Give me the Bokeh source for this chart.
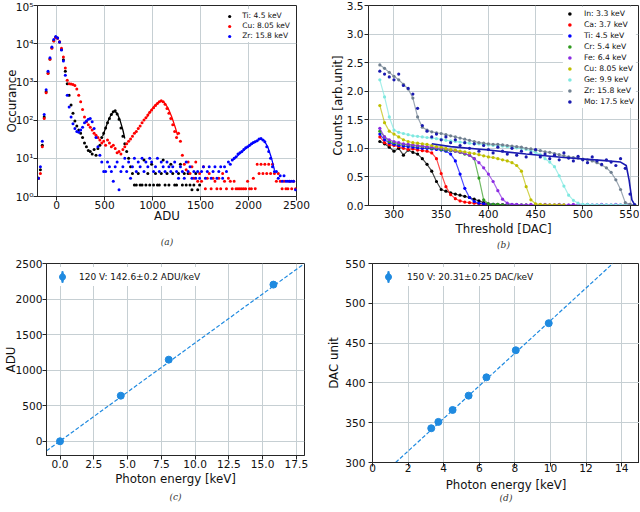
import math
from bokeh.plotting import figure
from bokeh.layouts import column, row
from bokeh.models import (Range1d, FixedTicker, CustomJSTickFormatter, PrintfTickFormatter,
                          Legend, LegendItem, Title)
from bokeh.embed import file_html
from bokeh.resources import INLINE

# ---------------- data: panel (a) ----------------
ADU_BINS = [-190, -170, -150, -130, -110, -90, -70, -50, -30, -10, 10, 30, 50, 70, 90,
            110, 130, 150, 170, 190, 210, 230, 250, 270, 290, 310, 330, 350, 370, 390,
            410, 430, 450, 470, 490, 510, 530, 550, 570, 590, 610, 630, 650, 670, 690,
            710, 730, 750, 770, 790, 810, 830, 850, 870, 890, 910, 930, 950, 970, 990,
            1010, 1030, 1050, 1070, 1090, 1110, 1130, 1150, 1170, 1190, 1210, 1230, 1250, 1270, 1290,
            1310, 1330, 1350, 1370, 1390, 1410, 1430, 1450, 1470, 1490, 1510, 1530, 1550, 1570, 1590,
            1610, 1630, 1650, 1670, 1690, 1710, 1730, 1750, 1770, 1790, 1810, 1830, 1850, 1870, 1890,
            1910, 1930, 1950, 1970, 1990, 2010, 2030, 2050, 2070, 2090, 2110, 2130, 2150, 2170, 2190,
            2210, 2230, 2250, 2270, 2290, 2310, 2330, 2350, 2370, 2390, 2410, 2430, 2450, 2470, 2490]

TI_COUNTS = [3, 5, 22, 120, 550, 1700, 4000, 7800, 12000, 14800, 14000, 11000, 7000, 3800, 1900,
             900, 450, 250, 150, 95, 70, 55, 45, 35, 25, 20, 16, 15, 13, 17,
             12, 18, 22, 35, 45, 62, 85, 110, 140, 165, 175, 145, 105, 62, 38,
             24, 15, 10, 6, 4, 2, 2, 4, 2, 2, 9, 2, 4, 2, 7,
             2, 4, 2, 2, 4, 9, 2, 4, 2, 7, 4, 2, 2, 4, 7,
             2, 4, 2, 4, 2, 1.5, 2, 4, 1.5, 2]

CU_COUNTS = [3, 4, 20, 110, 520, 1650, 3900, 7600, 11800, 14500, 13800, 11200, 7600, 4500, 2300,
             1100, 900, 880, 860, 800, 650, 450, 300, 190, 120, 90, 75, 65, 55, 45,
             40, 35, 30, 25, 28, 22, 30, 25, 20, 22, 18, 14, 15, 13, 17,
             20, 24, 28, 32, 38, 45, 50, 60, 70, 85, 100, 115, 135, 160, 185,
             210, 240, 270, 300, 320, 300, 260, 200, 150, 110, 75, 50, 35, 45, 28,
             12, 7, 5, 8, 4, 6, 3, 8, 2.5, 4, 2.5, 6, 1.6, 3, 4,
             1.6, 3, 2.5, 1.6, 3, 1.6, 4, 2.5, 1.6, 3, 2.5, 1.6, 2.5, 1.6, 1.6,
             1.6, 1.6, 1.6, 1.6, 2.5, 1.6, 1.6, 3, 1.6, 7, 4, 7, 4, 7, 4,
             7, 4, 7, 4, 2.5, 4, 2.5, 1.6, 2.5, 1.6, 1.6, 2.5, 1.6, 2.5, 1.6]

ZR_COUNTS = [3, 6, 28, 140, 620, 1900, 4300, 8200, 12800, 15500, 14200, 11000, 6800, 3500, 1500,
             450, 220, 120, 80, 60, 50, 48, 55, 65, 85, 95, 105, 110, 90, 60,
             35, 20, 12, 8, 4.5, 4.5, 8, 6, 4.5, 2.5, 6, 8, 1.5, 4.5, 6,
             10, 4.5, 8, 3, 6, 10, 4.5, 8, 6, 10, 4.5, 8, 6, 10, 8,
             4.5, 6, 10, 4.5, 8, 6, 4.5, 8, 6, 4.5, 6, 8, 4.5, 3, 6,
             4.5, 3, 8, 4.5, 6, 3, 4.5, 3, 4.5, 3, 4.5, 6, 3, 4.5, 6,
             3, 4.5, 6, 3, 4.5, 6, 3, 6, 4.5, 8, 7, 9, 10, 11, 13,
             14, 15, 17, 19, 20, 22, 24, 26, 27, 29, 32, 33, 30, 27, 20,
             15, 10, 6, 4.5, 4.5, 3, 3.5, 2.5, 3.5, 2.5, 2.5, 2.5, 2.5, 2.5, 1.5]

TI_FIT_X = [480, 510, 540, 570, 600, 630, 660, 690, 710]
TI_FIT_Y = [38, 62, 100, 145, 172, 150, 100, 55, 33]
CU_FIT_X = [940, 980, 1020, 1060, 1090, 1120, 1160, 1200, 1240, 1260]
CU_FIT_Y = [120, 175, 240, 295, 315, 290, 210, 120, 60, 40]
ZR_FIT_X = [1840, 1900, 1960, 2020, 2080, 2120, 2160, 2200, 2240, 2270]
ZR_FIT_Y = [9, 12.5, 17, 22, 28, 32, 30, 20, 10, 5]

A_TICKS_X = [0, 500, 1000, 1500, 2000, 2500]
A_TICKS_Y = [1, 10, 100, 1000, 10000, 100000]

# ---------------- data: panel (b) ----------------
DAC = [285, 290, 295, 300, 305, 310, 315, 320, 325, 330, 335, 340, 345, 350, 355,
       360, 365, 370, 375, 380, 385, 390, 395, 400, 405, 410, 415, 420, 425, 430,
       435, 440, 445, 450, 455, 460, 465, 470, 475, 480, 485, 490, 495, 500, 505,
       510, 515, 520, 525, 530, 535, 540, 545, 550, 555]

IN_33 = [1.12, 1.08, 1.02, 0.95, 1.0, 0.88, 0.97, 0.93, 0.9, 0.82, 0.72, 0.6, 0.42, 0.28, 0.25,
         0.22, 0.2, 0.18, 0.16, 0.14, 0.11, 0.08, 0.05, 0.03, 0.02, 0.02, 0.01, 0.01]
CA_37 = [1.2, 1.1, 1.06, 1.05, 1.03, 1.0, 0.98, 0.99, 0.97, 0.96, 0.95, 0.92, 0.82, 0.56, 0.33,
         0.19, 0.12, 0.08, 0.06, 0.05, 0.04, 0.03, 0.02, 0.02, 0.01, 0.01, 0.01, 0.01]
TI_45 = [1.25, 1.15, 1.1, 1.07, 1.05, 1.04, 1.03, 1.02, 1.01, 1.0, 1.0, 0.99, 0.98, 0.97, 0.95,
         0.9, 0.78, 0.55, 0.3, 0.14, 0.07, 0.04, 0.03, 0.02, 0.02, 0.01, 0.01, 0.01, 0.01, 0.01]
CR_54 = [1.3, 1.2, 1.12, 1.1, 1.08, 1.07, 1.06, 1.05, 1.04, 1.03, 1.02, 1.0, 1.0, 0.98, 0.97,
         0.96, 0.95, 0.93, 0.9, 0.88, 0.82, 0.48, 0.1, 0.03, 0.02, 0.02, 0.01, 0.01, 0.01, 0.01,
         0.01, 0.01]
FE_64 = [1.35, 1.2, 1.15, 1.12, 1.1, 1.08, 1.07, 1.06, 1.05, 1.04, 1.03, 1.02, 1.01, 1.0, 0.99,
         0.97, 0.95, 0.93, 0.91, 0.88, 0.82, 0.75, 0.66, 0.55, 0.42, 0.26, 0.11, 0.04, 0.02, 0.02,
         0.01, 0.01, 0.02, 0.01, 0.01, 0.02, 0.01, 0.01, 0.02, 0.01, 0.01, 0.02, 0.01, 0.01, 0.02,
         0.01, 0.01, 0.02, 0.01, 0.01, 0.02, 0.01, 0.01, 0.02, 0.01]
CU_805 = [1.75, 1.45, 1.3, 1.25, 1.2, 1.15, 1.12, 1.1, 1.09, 1.08, 1.07, 1.05, 1.03, 1.02, 1.0,
          0.98, 0.97, 0.95, 0.94, 0.92, 0.91, 0.89, 0.87, 0.85, 0.84, 0.82, 0.8, 0.78, 0.75, 0.7,
          0.6, 0.33, 0.1, 0.03, 0.02, 0.01, 0.01, 0.01, 0.01, 0.01]
GE_99 = [2.2, 1.9, 1.55, 1.32, 1.28, 1.26, 1.24, 1.22, 1.21, 1.2, 1.19, 1.18, 1.17, 1.16, 1.14,
         1.13, 1.12, 1.11, 1.1, 1.09, 1.08, 1.08, 1.07, 1.06, 1.05, 1.05, 1.04, 1.03, 1.02, 1.01,
         1.0, 0.98, 0.96, 0.93, 0.89, 0.82, 0.76, 0.68, 0.52, 0.34, 0.18, 0.09, 0.04, 0.02, 0.02,
         0.01, 0.01, 0.01, 0.01, 0.01, 0.01, 0.01, 0.01, 0.01, 0.01]
ZR_158 = [2.46, 2.4, 2.33, 2.26, 2.2, 2.12, 2.04, 1.88, 1.55, 1.37, 1.32, 1.29, 1.27, 1.26, 1.24,
          1.22, 1.2, 1.18, 1.16, 1.14, 1.12, 1.1, 1.09, 1.08, 1.07, 1.07, 1.06, 1.05, 1.04, 1.03,
          1.02, 1.0, 0.99, 0.97, 0.96, 0.94, 0.93, 0.91, 0.89, 0.87, 0.85, 0.84, 0.83, 0.81, 0.8,
          0.78, 0.75, 0.71, 0.66, 0.58, 0.45, 0.28, 0.05, 0.02, 0.01]
MO_175 = [2.35, 2.3, 2.25, 2.2, 2.3, 2.1, 2.05, 1.95, 1.7, 1.4, 1.3, 1.2, 1.25, 1.15, 1.2,
          1.1, 1.15, 1.05, 1.1, 1.0, 1.08, 0.95, 1.05, 0.98, 0.92, 1.02, 0.95, 0.9, 1.0, 0.88,
          0.95, 0.85, 0.92, 0.98, 0.85, 0.9, 0.82, 0.88, 0.8, 0.92, 0.83, 0.78, 0.86, 0.8, 0.75,
          0.85, 0.78, 0.72, 0.8, 0.76, 0.7, 0.82, 0.65, 0.2, 0.01]
MO_LINE_X = [340, 360, 400, 440, 480, 520, 540, 546, 549, 552, 555]
MO_LINE_Y = [1.08, 1.03, 0.97, 0.9, 0.84, 0.79, 0.76, 0.7, 0.45, 0.1, 0.01]

B_LABELS = ["In: 3.3 keV", "Ca: 3.7 keV", "Ti: 4.5 keV", "Cr: 5.4 keV", "Fe: 6.4 keV",
            "Cu: 8.05 keV", "Ge: 9.9 keV", "Zr: 15.8 keV", "Mo: 17.5 keV"]
B_COLORS = ["#000000", "#ff0000", "#0000ff", "#2f9a1e", "#8a2be2",
            "#bfbf00", "#7fe8e0", "#708090", "#1a1ab0"]
B_SERIES = [IN_33, CA_37, TI_45, CR_54, FE_64, CU_805, GE_99, ZR_158, MO_175]

# ---------------- data: panel (c) ----------------
E_C = [0.0, 4.5, 8.05, 15.8]
ADU_C = [0, 641, 1148, 2203]
FIT_E_C = [-1.0, 18.1]
FIT_ADU_C = [-135, 2500]
C_LABEL = "120 V: 142.6\u00b10.2 ADU/keV"

# ---------------- data: panel (d) ----------------
E_D = [3.3, 3.7, 4.5, 5.4, 6.4, 8.05, 9.9]
DAC_D = [343, 351, 366, 384, 407, 441, 475]
FIT_E_D = [1.3, 13.5]
FIT_DAC_D = [300, 550]
D_LABEL = "150 V: 20.31\u00b10.25 DAC/keV"

# ---------------- style ----------------
FONT = "DejaVu Sans"
GRID = "#c6cfd3"
AXC = "#262626"
PBLUE = "#1f8ae0"
NAN = float("nan")


def style(p, xlabel, ylabel, xs=(0, 0), ys=(0, 1)):
    p.xaxis.axis_label = xlabel
    p.yaxis.axis_label = ylabel
    p.outline_line_color = AXC
    p.outline_line_width = 1
    p.background_fill_color = "white"
    p.border_fill_color = "white"
    for ax, (s1, s2) in ((p.xaxis[0], xs), (p.yaxis[0], ys)):
        ax.axis_line_color = AXC
        ax.major_tick_line_color = AXC
        ax.major_tick_out = 4
        ax.major_tick_in = 0
        ax.minor_tick_line_color = None
        ax.major_label_text_font = FONT
        ax.major_label_text_font_size = "10.6px"
        ax.major_label_text_color = "#111111"
        ax.major_label_standoff = s1
        ax.axis_label_text_font = FONT
        ax.axis_label_text_font_size = "11.8px"
        ax.axis_label_text_font_style = "normal"
        ax.axis_label_text_color = "#111111"
        ax.axis_label_standoff = s2
    p.xgrid.grid_line_color = GRID
    p.ygrid.grid_line_color = GRID


def caption(p, txt, standoff):
    t = Title(text=txt, align="center", text_font="DejaVu Serif", text_font_style="italic",
              text_font_size="9px", text_color="#333333", standoff=standoff)
    p.add_layout(t, "below")


def make_legend(items, **kw):
    return Legend(items=items, border_line_alpha=0, background_fill_alpha=1,
                  label_text_font=FONT, label_text_color="#111111", **kw)


def fig(w, h, xr, yr, borders, **kw):
    l, r, t, b = borders
    return figure(width=w, height=h, x_range=xr, y_range=yr, output_backend="svg",
                  toolbar_location=None, min_border_left=l, min_border_right=r,
                  min_border_top=t, min_border_bottom=b, **kw)


# ---------------- panel (a) ----------------
pa = fig(320, 256, Range1d(-200, 2500), Range1d(1, 1e5), (37, 24, 5, 59), y_axis_type="log")
style(pa, "ADU", "Occurance", xs=(0, -3), ys=(0, -6))
pa.xaxis.ticker = FixedTicker(ticks=A_TICKS_X)
pa.yaxis.ticker = FixedTicker(ticks=A_TICKS_Y)
pa.yaxis.formatter = CustomJSTickFormatter(code="""
const sup = ['\u2070','\u00b9','\u00b2','\u00b3','\u2074','\u2075','\u2076'];
const e = Math.round(Math.log10(tick));
return '10' + sup[e];
""")
ra1 = pa.scatter(ADU_BINS[:len(TI_COUNTS)], TI_COUNTS, size=3, fill_color="black", line_color=None)
ra2 = pa.scatter(ADU_BINS[:len(CU_COUNTS)], CU_COUNTS, size=3, fill_color="red", line_color=None)
ra3 = pa.scatter(ADU_BINS[:len(ZR_COUNTS)], ZR_COUNTS, size=3, fill_color="blue", line_color=None)
pa.line(TI_FIT_X, TI_FIT_Y, color="black", line_width=1.3)
pa.line(CU_FIT_X, CU_FIT_Y, color="red", line_width=1.3)
pa.line(ZR_FIT_X, ZR_FIT_Y, color="blue", line_width=1.3)
lega = make_legend([LegendItem(label="Ti: 4.5 keV", renderers=[ra1]),
                    LegendItem(label="Cu: 8.05 keV", renderers=[ra2]),
                    LegendItem(label="Zr: 15.8 keV", renderers=[ra3])],
                   location="top_right", label_text_font_size="7.5px", glyph_width=8,
                   glyph_height=8, label_height=9, spacing=1, padding=2, margin=4,
                   label_standoff=9)
pa.add_layout(lega)
caption(pa, "(a)", 19)

# ---------------- panel (b) ----------------
pb = fig(319, 256, Range1d(273, 559), Range1d(0, 3.5), (48, 1, 5, 51))
style(pb, "Threshold [DAC]", "Counts [arb.unit]", xs=(0, 1), ys=(1, -1))
pb.xaxis.ticker = FixedTicker(ticks=[300, 350, 400, 450, 500, 550])
pb.yaxis.ticker = FixedTicker(ticks=[0, 0.5, 1.0, 1.5, 2.0, 2.5, 3.0, 3.5])
pb.yaxis.formatter = PrintfTickFormatter(format="%.1f")
b_items = []
for lab, col, ser in zip(B_LABELS, B_COLORS, B_SERIES):
    xs = DAC[:len(ser)]
    if lab.startswith("Mo"):
        pb.line(MO_LINE_X, MO_LINE_Y, color=col, line_width=1.6)
    else:
        pb.line(xs, ser, color=col, line_width=1.2, line_alpha=0.7)
    r = pb.scatter(xs, ser, size=3.2, fill_color=col, line_color=None)
    b_items.append(LegendItem(label=lab, renderers=[r]))
legb = make_legend(b_items, location="top_right", label_text_font_size="7.7px",
                   glyph_width=9, glyph_height=9, label_height=9, spacing=2,
                   padding=2, margin=2, label_standoff=10)
pb.add_layout(legb)
caption(pb, "(b)", -1)

# ---------------- panel (c) ----------------
pc = fig(320, 255, Range1d(-1.0, 18.1), Range1d(-200, 2500), (46, 16, 7, 56))
style(pc, "Photon energy [keV]", "ADU", xs=(0, 1), ys=(0, -5))
pc.xaxis.ticker = FixedTicker(ticks=[0, 2.5, 5, 7.5, 10, 12.5, 15, 17.5])
pc.xaxis.formatter = PrintfTickFormatter(format="%.1f")
pc.yaxis.ticker = FixedTicker(ticks=[0, 500, 1000, 1500, 2000, 2500])
pc.line(FIT_E_C, FIT_ADU_C, color=PBLUE, line_width=1.2, line_dash="4 2")
rc = pc.scatter(E_C, ADU_C, size=7, fill_color=PBLUE, line_color=PBLUE)
rc_bar = pc.ellipse(x=[NAN], y=[NAN], width=2, height=12, width_units="screen",
                    height_units="screen", fill_color=PBLUE, line_color=PBLUE)
legc = make_legend([LegendItem(label=C_LABEL, renderers=[rc_bar, rc])], location="top_left",
                   label_text_font_size="9px", glyph_width=20, glyph_height=15,
                   label_height=15, padding=2, margin=4, label_standoff=7)
pc.add_layout(legc)
caption(pc, "(c)", 3)

# ---------------- panel (d) ----------------
pd_ = fig(319, 255, Range1d(0, 15), Range1d(300, 550), (52, 0, 7, 49))
style(pd_, "Photon energy [keV]", "DAC unit", xs=(-3, 3), ys=(3, 1))
pd_.xaxis.ticker = FixedTicker(ticks=[0, 2, 4, 6, 8, 10, 12, 14])
pd_.yaxis.ticker = FixedTicker(ticks=[300, 350, 400, 450, 500, 550])
pd_.line(FIT_E_D, FIT_DAC_D, color=PBLUE, line_width=1.2, line_dash="4 2")
rd = pd_.scatter(E_D, DAC_D, size=7, fill_color=PBLUE, line_color=PBLUE)
rd_bar = pd_.ellipse(x=[NAN], y=[NAN], width=2, height=12, width_units="screen",
                     height_units="screen", fill_color=PBLUE, line_color=PBLUE)
legd = make_legend([LegendItem(label=D_LABEL, renderers=[rd_bar, rd])], location="top_left",
                   label_text_font_size="9px", glyph_width=20, glyph_height=15,
                   label_height=15, padding=2, margin=4, label_standoff=9)
pd_.add_layout(legd)
caption(pd_, "(d)", -8)

layout = column(row(column(pa), column(pb)), row(column(pc), column(pd_)))
open("out.html", "w").write(file_html(layout, INLINE))
